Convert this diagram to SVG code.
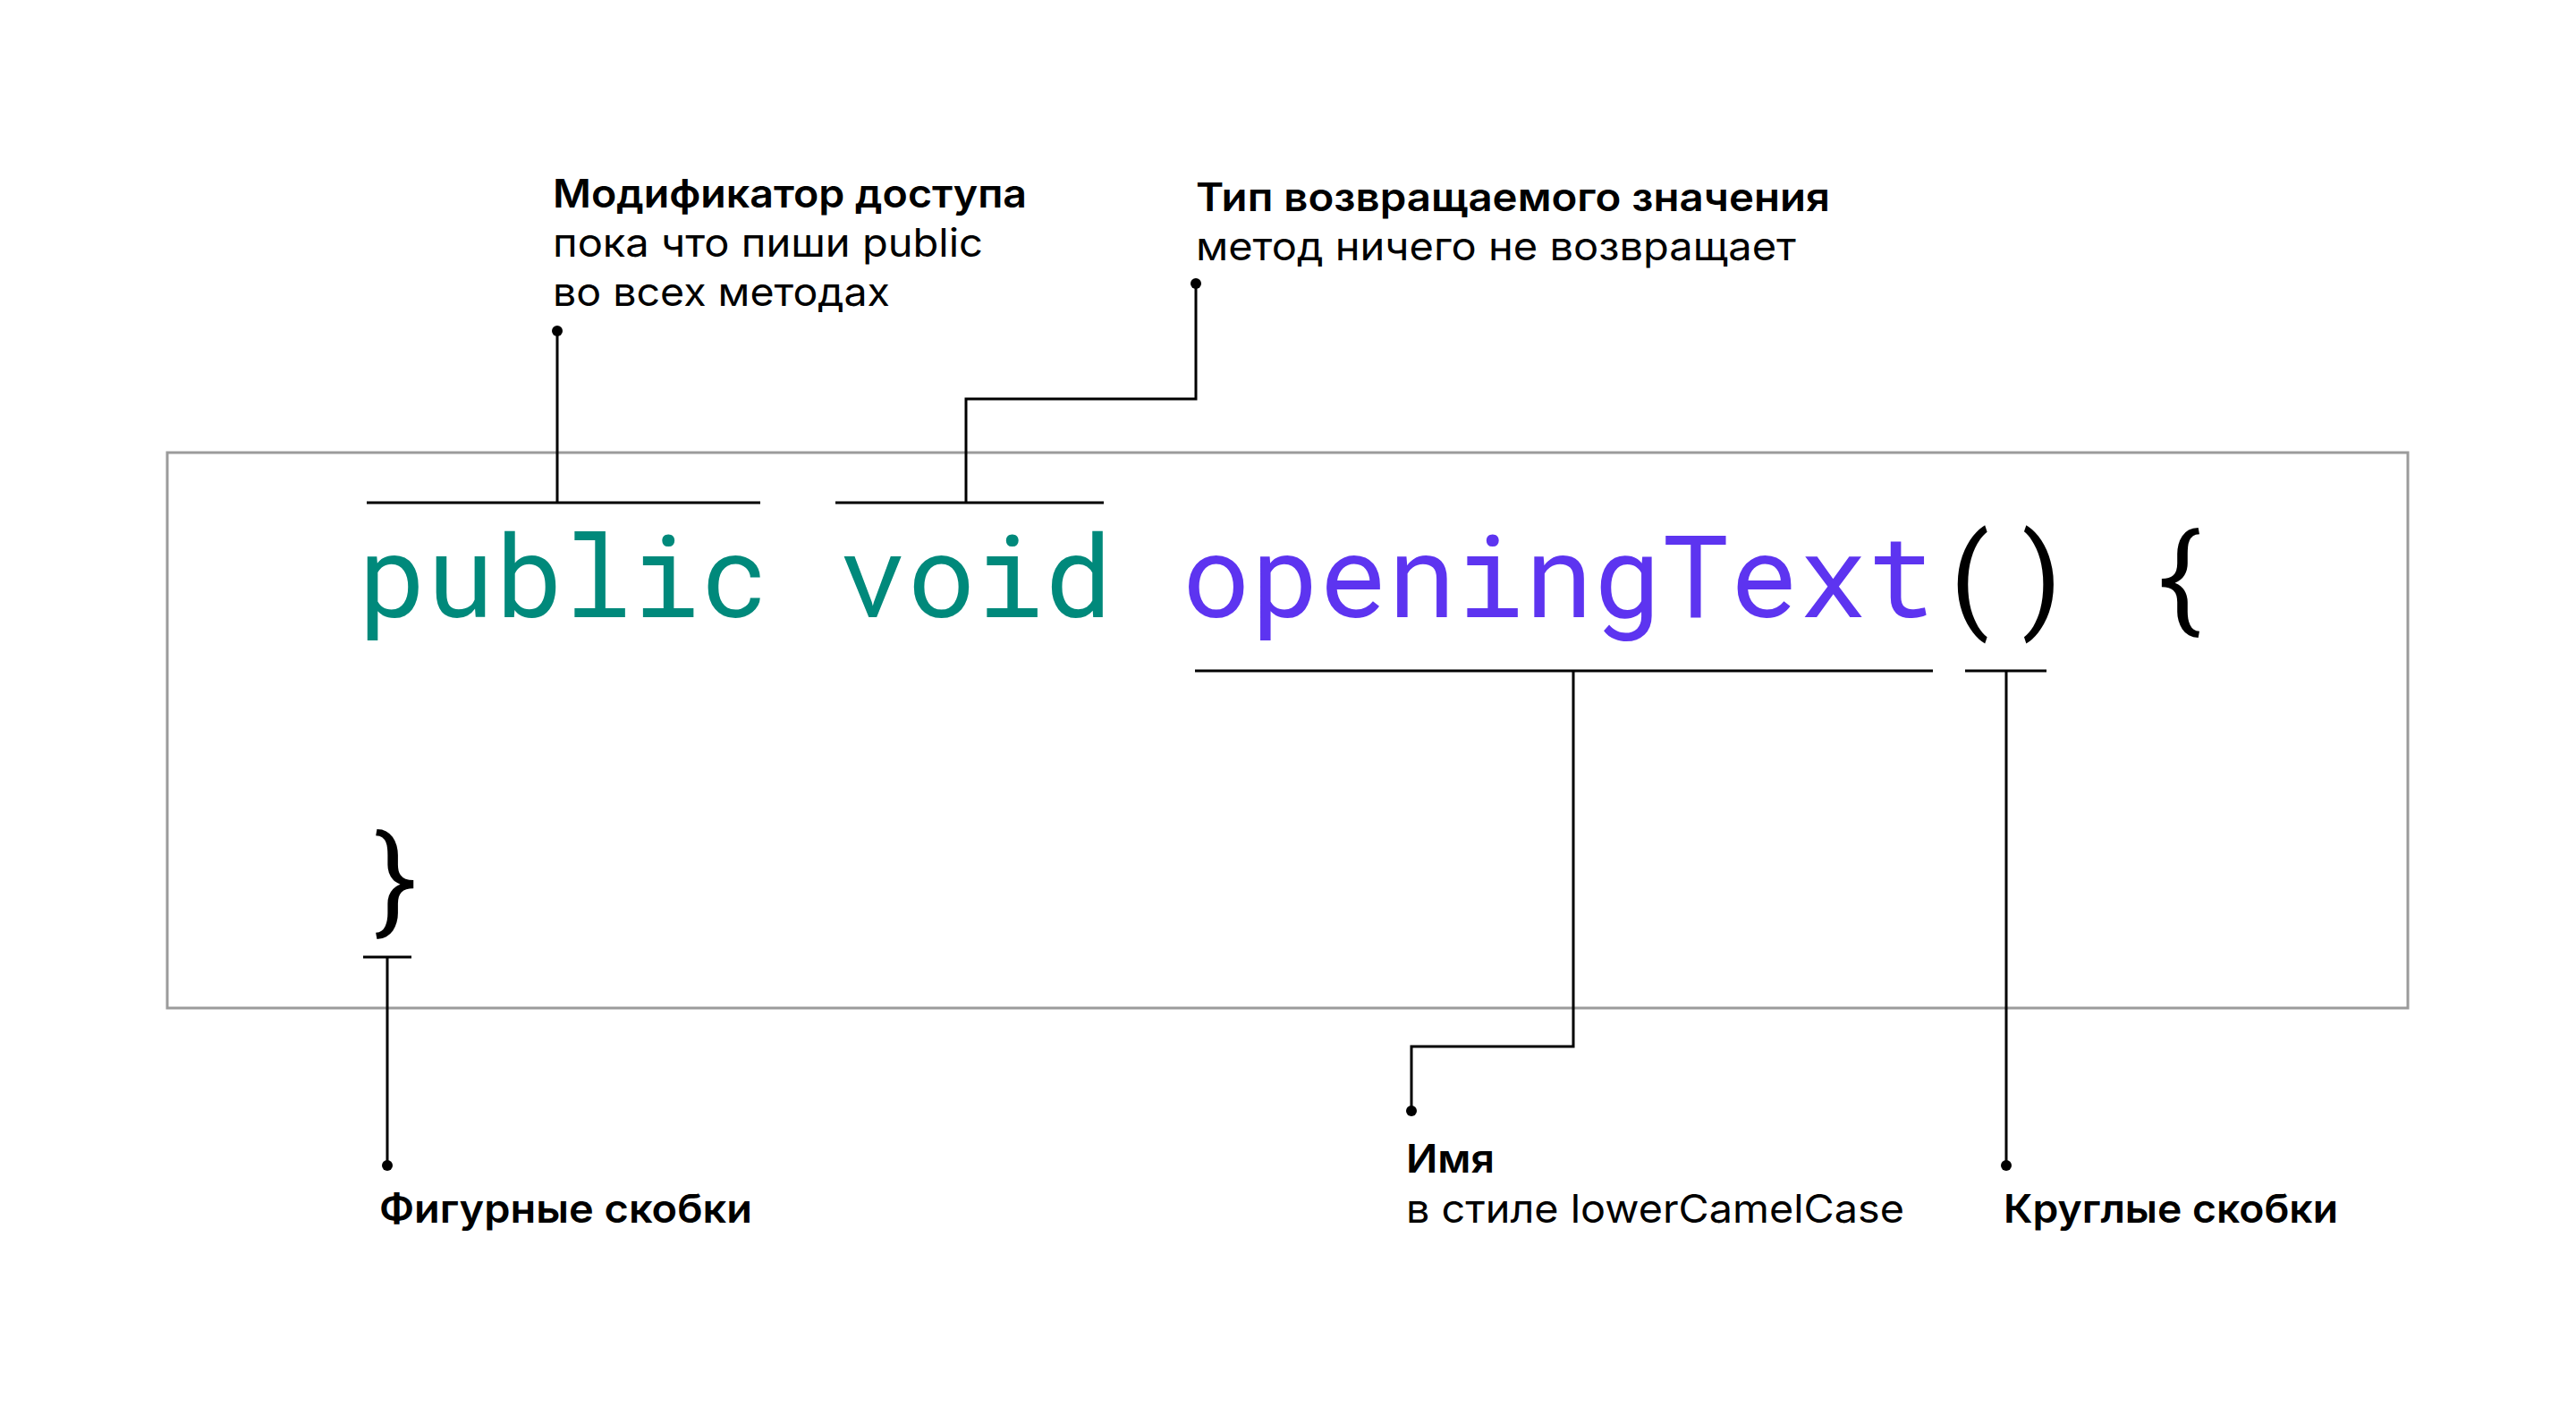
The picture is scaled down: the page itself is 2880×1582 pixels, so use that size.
<svg xmlns="http://www.w3.org/2000/svg" width="2880" height="1582" viewBox="0 0 2880 1582">
<style>
.lbl{font-family:Inter,"Liberation Sans","Noto Sans",sans-serif;font-size:44px;fill:#000}
.b{font-weight:600}
.code{font-family:"Roboto Mono","DejaVu Sans Mono","Liberation Mono",monospace;font-size:127.6px}
.kw{fill:#00897B}
.nm{fill:#5D34F0}
.pn{fill:#000}
.ln{stroke:#000;stroke-width:3;fill:none}
.dot{fill:#000}
</style>
<rect id="frame" x="187" y="506" width="2505" height="621" fill="none" stroke="#9B9B9B" stroke-width="3"/>
<g id="code">
<text class="code" y="690"><tspan class="kw" x="400">public</tspan><tspan class="kw" x="937.6">void</tspan><tspan class="nm" x="1321.6">openingText</tspan><tspan class="pn" x="2166.4">()</tspan><tspan class="pn" x="2396.8">{</tspan></text>
<text class="code pn" x="400" y="1027">}</text>
</g>
<g id="connectors">
<line class="ln" x1="410" y1="562" x2="850" y2="562"/>
<polyline class="ln" points="623,370 623,562"/>
<circle class="dot" cx="623" cy="370" r="6"/>
<line class="ln" x1="934" y1="562" x2="1234" y2="562"/>
<polyline class="ln" points="1080,562 1080,446 1337,446 1337,317"/>
<circle class="dot" cx="1337" cy="317" r="6"/>
<line class="ln" x1="1336" y1="750" x2="2161" y2="750"/>
<polyline class="ln" points="1759,750 1759,1170 1578,1170 1578,1242"/>
<circle class="dot" cx="1578" cy="1242" r="6"/>
<line class="ln" x1="2197" y1="750" x2="2288" y2="750"/>
<polyline class="ln" points="2243,750 2243,1303"/>
<circle class="dot" cx="2243" cy="1303" r="6"/>
<line class="ln" x1="406" y1="1070" x2="460" y2="1070"/>
<polyline class="ln" points="433,1070 433,1303"/>
<circle class="dot" cx="433" cy="1303" r="6"/>
</g>
<g id="label-modifier">
<text class="lbl b" x="618" y="232" textLength="530" lengthAdjust="spacingAndGlyphs">Модификатор доступа</text>
<text class="lbl" x="618" y="287" textLength="481" lengthAdjust="spacingAndGlyphs">пока что пиши public</text>
<text class="lbl" x="618" y="342" textLength="377" lengthAdjust="spacingAndGlyphs">во всех методах</text>
</g>
<g id="label-type">
<text class="lbl b" x="1337" y="236" textLength="709" lengthAdjust="spacingAndGlyphs">Тип возвращаемого значения</text>
<text class="lbl" x="1337" y="291" textLength="671" lengthAdjust="spacingAndGlyphs">метод ничего не возвращает</text>
</g>
<g id="label-braces">
<text class="lbl b" x="424" y="1367" textLength="417" lengthAdjust="spacingAndGlyphs">Фигурные скобки</text>
</g>
<g id="label-name">
<text class="lbl b" x="1572" y="1311" textLength="99" lengthAdjust="spacingAndGlyphs">Имя</text>
<text class="lbl" x="1572" y="1367" textLength="557" lengthAdjust="spacingAndGlyphs">в стиле lowerCamelCase</text>
</g>
<g id="label-parens">
<text class="lbl b" x="2240" y="1367" textLength="374" lengthAdjust="spacingAndGlyphs">Круглые скобки</text>
</g>
</svg>
